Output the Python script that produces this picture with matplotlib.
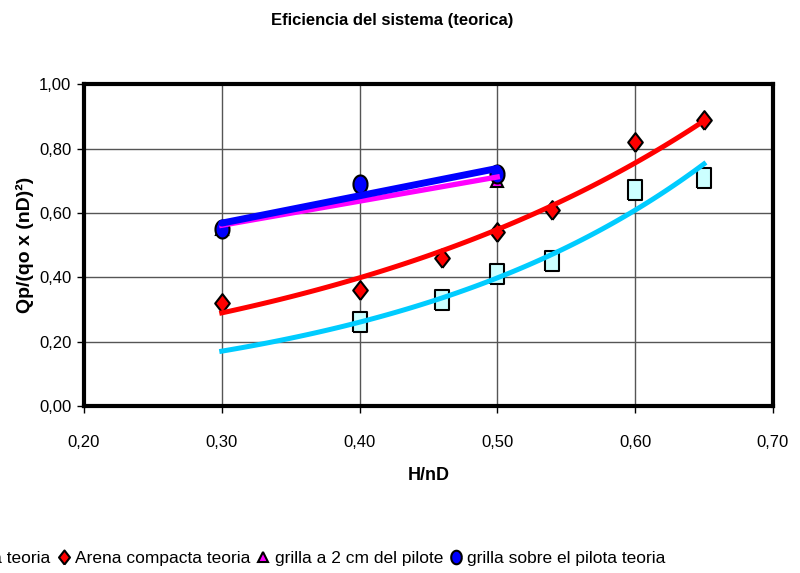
import matplotlib.pyplot as plt
import numpy as np
from matplotlib.ticker import FuncFormatter

plt.rcParams['font.family'] = ['Liberation Sans', 'DejaVu Sans']

# data
x_suelta = [0.40, 0.46, 0.50, 0.54, 0.60, 0.65]
y_suelta = [0.26, 0.33, 0.41, 0.45, 0.67, 0.71]
x_compacta = [0.30, 0.40, 0.46, 0.50, 0.54, 0.60, 0.65]
y_compacta = [0.32, 0.36, 0.46, 0.54, 0.61, 0.82, 0.89]
x_grilla2 = [0.30, 0.40, 0.50]
y_grilla2 = [0.55, 0.66, 0.70]
x_sobre = [0.30, 0.40, 0.50]
y_sobre = [0.55, 0.69, 0.72]

labels = ['Arena suelta teoria', 'Arena compacta teoria',
          'grilla a 2 cm del pilote', 'grilla sobre el pilota teoria']

# markers a bit taller than wide, like the original
rect = [(-0.37, -0.5), (0.37, -0.5), (0.37, 0.5), (-0.37, 0.5), (-0.37, -0.5)]
diam = [(0, -0.5), (0.39, 0), (0, 0.5), (-0.39, 0), (0, -0.5)]
t = np.linspace(0, 2 * np.pi, 40)
oval = list(zip(0.39 * np.cos(t), 0.5 * np.sin(t)))

def exp_fit(x, y, x0, x1):
    b, a = np.polyfit(x, np.log(y), 1)
    xs = np.linspace(x0, x1, 100)
    return xs, np.exp(a) * np.exp(b * xs)

def lin_fit(x, y):
    m, c = np.polyfit(x, y, 1)
    xs = np.array([min(x), max(x)])
    return xs, m * xs + c

plt.close("all")
fig = plt.figure(figsize=(8, 5.73), dpi=100)
ax = fig.add_axes([0.105, 0.2914, 0.861, 0.5616])

ax.plot(x_suelta, y_suelta, ls='none', marker=rect, ms=14, mfc='#CCFFFF', mec='k', mew=1.5, label=labels[0], zorder=3)
ax.plot(x_compacta, y_compacta, ls='none', marker=diam, ms=13.5, mfc='#FF0000', mec='k', mew=1.5, label=labels[1], zorder=3)
ax.plot(x_grilla2, y_grilla2, ls='none', marker='^', ms=9, mfc='#FF00FF', mec='k', mew=1.5, label=labels[2], zorder=3)
ax.plot(x_sobre, y_sobre, ls='none', marker=oval, ms=13, mfc='#0000FF', mec='k', mew=1.5, label=labels[3], zorder=3)

# trend lines
xs, ys = exp_fit(x_compacta, y_compacta, 0.30, 0.65)
ax.plot(xs, ys, color='#FF0000', lw=3.6, zorder=4)
xs, ys = exp_fit(x_suelta, y_suelta, 0.30, 0.65)
ax.plot(xs, ys, color='#00CCFF', lw=3.6, zorder=4)
xs, ys = lin_fit(x_grilla2, y_grilla2)
ax.plot(xs, ys, color='#FF00FF', lw=3.8, zorder=4)
xs, ys = lin_fit(x_sobre, y_sobre)
ax.plot(xs, ys, color='#0000FF', lw=5, solid_capstyle='round', zorder=5)

ax.set_xlim(0.2, 0.7)
ax.set_ylim(0, 1)
ax.set_xticks(np.arange(0.2, 0.71, 0.1))
ax.set_yticks(np.arange(0, 1.01, 0.2))
fmt = FuncFormatter(lambda v, p: ('%.2f' % v).replace('.', ','))
ax.xaxis.set_major_formatter(fmt)
ax.yaxis.set_major_formatter(fmt)
ax.tick_params(labelsize=12, length=5, width=1, pad=4)
ax.tick_params(axis='x', pad=16)
ax.grid(True, color='#555555', lw=1)
ax.set_axisbelow(True)
for s in ax.spines.values():
    s.set_linewidth(3)
    s.set_color('k')

ax.set_xlabel('H/nD', fontsize=13, fontweight='bold', labelpad=12)
ax.set_ylabel('Qp/(qo x (nD)²)', fontsize=14, fontweight='bold', labelpad=4)
fig.text(0.49, 0.965, 'Eficiencia del sistema (teorica)', ha='center', va='center', fontsize=12, fontweight='bold')

fig.legend(loc='center right', bbox_to_anchor=(0.832, 0.026), ncol=4, frameon=False, borderpad=0,
           fontsize=12.5, markerscale=0.75, handlelength=0.7, handletextpad=0.3,
           columnspacing=0.4, borderaxespad=0)

fig.savefig('out.png', dpi=100)
